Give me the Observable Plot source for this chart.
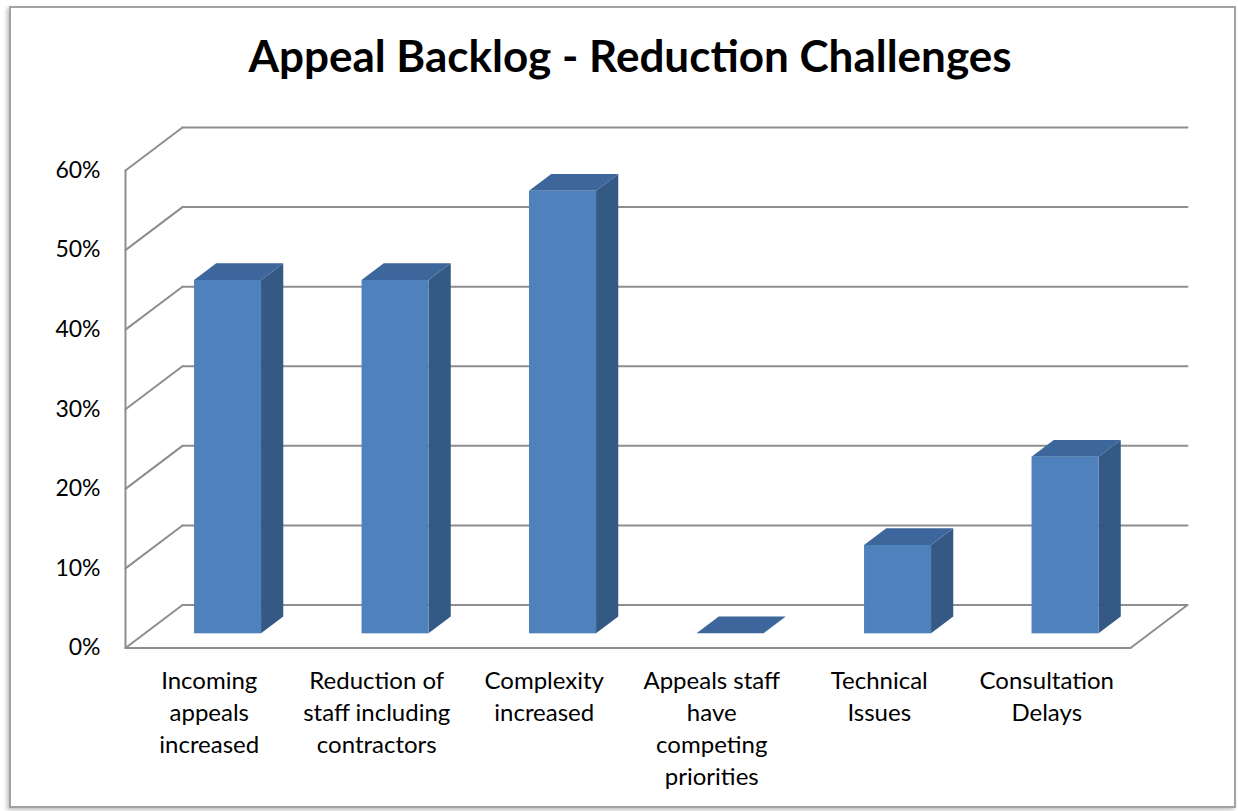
<!DOCTYPE html>
<html>
<head>
<meta charset="utf-8">
<script src="https://cdn.jsdelivr.net/npm/d3@7"></script>
<script src="https://cdn.jsdelivr.net/npm/@observablehq/plot@0.6"></script>
<style>
  html, body { margin: 0; padding: 0; background: #fff; }
  #wrap { position: relative; width: 1238px; height: 811px; overflow: hidden; background: #fff; }
  #frame { position: absolute; left: 9px; top: 6px; width: 1223px; height: 798px;
           border: 2px solid #a3a3a3; box-shadow: -2px 2px 4px rgba(0,0,0,0.25); pointer-events: none; }
  #title { height: 100px; box-sizing: border-box; padding-top: 33px; padding-left: 22px;
           text-align: center; font: bold 44px Lato, sans-serif; line-height: 44px; color: #000; }
  #chart svg { display: block; }
</style>
</head>
<body>
<div id="wrap">
  <div id="title">Appeal Backlog - Reduction Challenges</div>
  <div id="chart"></div>
  <div id="frame"></div>
</div>
<script>
// ---- data ----
const categories = [
  "Incoming\nappeals\nincreased",
  "Reduction of\nstaff including\ncontractors",
  "Complexity\nincreased",
  "Appeals staff\nhave\ncompeting\npriorities",
  "Technical\nIssues",
  "Consultation\nDelays"
];
const values = [0.444, 0.444, 0.556, 0, 0.111, 0.222];
const yTicks = [0, 0.1, 0.2, 0.3, 0.4, 0.5, 0.6];

// ---- 3D geometry (in data units) ----
const N = categories.length;
const DX = 0.34;   // depth shift in category units
const DY = 0.054;  // depth shift in value units
const Z0 = 0.33, Z1 = 0.72;       // bar depth range (0 = front, 1 = back)
const BL = 0.3, BR = 0.7;         // bar left/right within a category slot

const front = values.map((v, i) => ({i, x1: i + BL + Z0 * DX, x2: i + BR + Z0 * DX, y1: Z0 * DY, y2: v + Z0 * DY}));
const side = values.flatMap((v, i) => [Z0, Z1].map(z => ({i, x: i + BR + z * DX, y1: z * DY, y2: v + z * DY})));
const topFace = values.flatMap((v, i) => [Z0, Z1].map(z => ({i, y: v + z * DY, x1: i + BL + z * DX, x2: i + BR + z * DX})));
const floorEdges = [
  {x1: 0, y1: 0, x2: N, y2: 0},
  {x1: N, y1: 0, x2: N + DX, y2: DY}
];

const gridColor = "#8e8e8e";
const gridWidth = 2;

const chart = Plot.plot({
  width: 1238,
  height: 711,
  marginLeft: 125,
  marginRight: 108,
  marginTop: 70,
  marginBottom: 163.5,
  style: {fontFamily: "Lato, sans-serif", color: "#000", background: "transparent"},
  x: {type: "linear", domain: [0, N]},
  y: {type: "linear", domain: [0, 0.6]},
  marks: [
    // back wall gridlines
    Plot.link(yTicks, {x1: () => DX, x2: () => N + DX, y1: t => t + DY, y2: t => t + DY,
      stroke: gridColor, strokeWidth: gridWidth, strokeLinecap: "round"}),
    // left wall diagonals
    Plot.link(yTicks, {x1: () => 0, x2: () => DX, y1: t => t, y2: t => t + DY,
      stroke: gridColor, strokeWidth: gridWidth, strokeLinecap: "round"}),
    // left wall front edge
    Plot.link([yTicks[0]], {x1: () => 0, x2: () => 0, y1: () => yTicks[0], y2: () => yTicks[yTicks.length - 1],
      stroke: gridColor, strokeWidth: gridWidth, strokeLinecap: "round"}),
    // floor edges
    Plot.link(floorEdges, {x1: "x1", y1: "y1", x2: "x2", y2: "y2",
      stroke: gridColor, strokeWidth: gridWidth, strokeLinecap: "round"}),
    // bars: side, top, front
    Plot.areaY(side, {x: "x", y1: "y1", y2: "y2", z: "i", fill: "#355985"}),
    Plot.areaX(topFace, {y: "y", x1: "x1", x2: "x2", z: "i", fill: "#3c669c"}),
    Plot.rect(front, {x1: "x1", x2: "x2", y1: "y1", y2: "y2", fill: "#4f81bd"}),
    // axes
    Plot.axisY(yTicks, {tickSize: 0, tickPadding: 25, tickFormat: d3.format(".0%"), fontSize: 23}),
    Plot.axisX(categories.map((c, i) => i + 0.5), {tickSize: 0, tickPadding: 18,
      tickFormat: d => categories[Math.round(d - 0.5)], fontSize: 24, lineHeight: 1.3333})
  ]
});
document.getElementById("chart").appendChild(chart);
</script>
</body>
</html>
